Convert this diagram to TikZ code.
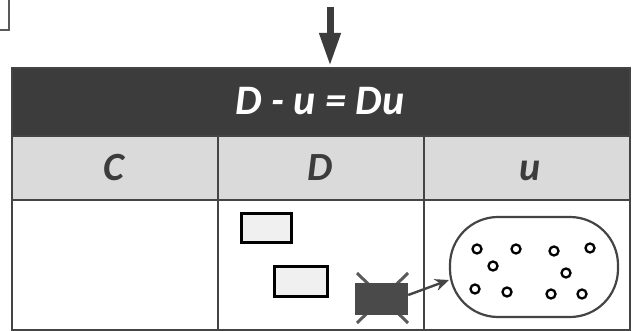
\documentclass[tikz,border=0pt]{standalone}
\usepackage{fontspec}
\setmainfont{Carlito}
\usetikzlibrary{arrows.meta,patterns}
\definecolor{hdark}{HTML}{3C3C3C}
\definecolor{hgray}{HTML}{DADADA}
\definecolor{lgray}{HTML}{444444}
\definecolor{boxdark}{HTML}{4A4A4A}
\definecolor{xgray}{HTML}{5A5A5A}
\tikzset{
  grid/.style={draw=lgray, line width=2.2pt},
  title/.style={text=white, font=\fontsize{42}{42}\selectfont\bfseries\itshape, anchor=base},
  colhead/.style={text=hdark, font=\fontsize{40}{40}\selectfont\bfseries\itshape, anchor=base},
  smallbox/.style={draw=black, line width=3pt, fill=gray!12},
  dot/.style={circle, draw=black, line width=2.3pt, minimum size=9pt, inner sep=0pt},
}
\begin{document}
\begin{tikzpicture}[x=1pt,y=-1pt]
\useasboundingbox (0,0) rectangle (639,331);
\fill[white] (0,0) rectangle (639,331);
% partial box top-left
\draw[draw=gray!70!black, line width=1.6pt] (0,30) -- (9,30) -- (9,0);
% arrow
\coordinate (atop) at (330,7);
\coordinate (atip) at (330,66);
\draw[hdark, line width=7pt, -{Triangle[width=20pt,length=33pt]}] (atop) -- (atip);
% table header
\fill[hdark] (12,68) rectangle (630,136);
\node[title] (t) at (320,115) {D - u = Du};
% gray row
\fill[hgray] (12,136) rectangle (630,200);
\node[colhead] (c) at (114,180) {C};
\node[colhead] (d) at (320,180) {D};
\node[colhead] (u) at (530,180) {u};
% grid lines
\draw[grid] (12,68) rectangle (630,330);
\draw[grid] (12,136) -- (630,136);
\draw[grid] (12,200) -- (630,200);
\draw[grid] (218,136) -- (218,330);
\draw[grid] (424,136) -- (424,330);
% small boxes
\node[smallbox, minimum width=50pt, minimum height=29pt, inner sep=0pt] (b1) at (266.5,227.5) {};
\node[smallbox, minimum width=53pt, minimum height=30pt, inner sep=0pt] (b2) at (300.5,281) {};
% crossed dark box
\draw[xgray, line width=3pt] (357,273) -- (408,323);
\draw[xgray, line width=3pt] (408,273) -- (357,323);
\node[fill=boxdark, minimum width=53pt, minimum height=32pt, inner sep=0pt] (db) at (381.5,299) {};
% set
\node[draw=lgray, line width=2.2pt, rounded corners=48pt, minimum width=168pt, minimum height=100pt, inner sep=0pt] (set) at (534,267) {};
\draw[lgray, line width=2.4pt, -{Stealth[width=12pt,length=14pt]}] (db.east) ++(0,-4) coordinate (dbs) -- (449,280) coordinate (setin);
% dots
\foreach \p/\q [count=\i] in {477/249,516/249,554/251,590/248,493/266,566/273,475/289,507/292,551/294,582/294}
  \node[dot] (p\i) at (\p,\q) {};
\end{tikzpicture}
\end{document}
